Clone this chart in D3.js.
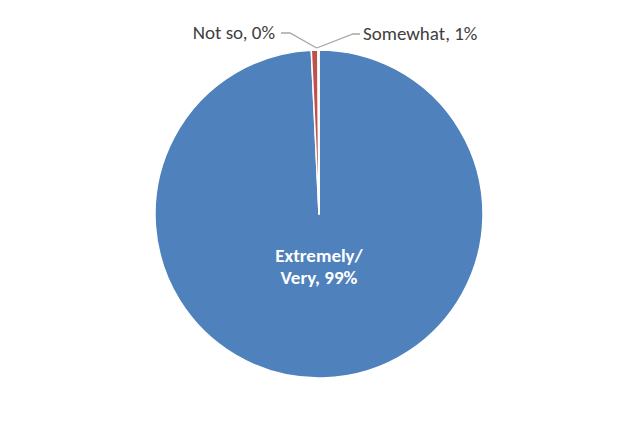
<!DOCTYPE html>
<html>
<head>
<meta charset="utf-8">
<script src="https://cdn.jsdelivr.net/npm/d3@7"></script>
<style>
  html, body { margin: 0; padding: 0; background: #fff; }
  svg text { font-family: Calibri, Carlito, "Liberation Sans", Arial, sans-serif; }
</style>
</head>
<body>
<div id="chart"></div>
<script>
const categories = ["Extremely/ Very", "Somewhat", "Not so"];
const values = [99.25, 0.65, 0.1];
const pctLabels = ["99%", "1%", "0%"];
const colors = ["#4F81BD", "#C0504D", "#9BBB59"];

const w = 639, h = 429;
const cx = 319, cy = 214, r = 164;

const svg = d3.select("#chart").append("svg")
  .attr("width", w).attr("height", h)
  .style("background", "#fff");

const pie = d3.pie().sort(null).value((d) => d.value);
const arcs = pie(categories.map((c, i) => ({ name: c, value: values[i], pct: pctLabels[i], color: colors[i] })));
const arc = d3.arc().innerRadius(0).outerRadius(r);

const g = svg.append("g").attr("transform", `translate(${cx},${cy})`);

g.selectAll("path.slice")
  .data(arcs)
  .enter()
  .append("path")
  .attr("class", "slice")
  .attr("d", arc)
  .attr("fill", (d) => d.data.color)
  .attr("stroke", "#fff")
  .attr("stroke-width", 1.5)
  .attr("stroke-linejoin", "round");

// big inside label
const big = g.append("text")
  .attr("text-anchor", "middle")
  .style("font-size", "19px")
  .style("font-weight", "bold")
  .style("fill", "#fff");
big.append("tspan").attr("x", 0).attr("y", 48).text("Extremely/");
big.append("tspan").attr("x", 0).attr("y", 70).text("Very, " + arcs[0].data.pct);

// outside labels with leader lines
const outside = [
  { d: arcs[2], ly: -181, tx: -44, anchor: "end", knee: -29 },
  { d: arcs[1], ly: -180, tx: 44, anchor: "start", knee: 34 }
];

outside.forEach((o) => {
  const tip = [-2.3, -166];
  const pts = [[o.knee > 0 ? 41 : -38, o.ly], [o.knee, o.ly], tip];
  g.append("polyline")
    .attr("points", pts.map((p) => p.join(",")).join(" "))
    .attr("fill", "none")
    .attr("stroke", "#A6A6A6")
    .attr("stroke-width", 1.3);
  g.append("text")
    .attr("x", o.tx)
    .attr("y", o.ly + 6)
    .attr("text-anchor", o.anchor)
    .style("font-size", "19px")
    .style("fill", "#404040")
    .text(o.d.data.name + ", " + o.d.data.pct);
});
</script>
</body>
</html>
